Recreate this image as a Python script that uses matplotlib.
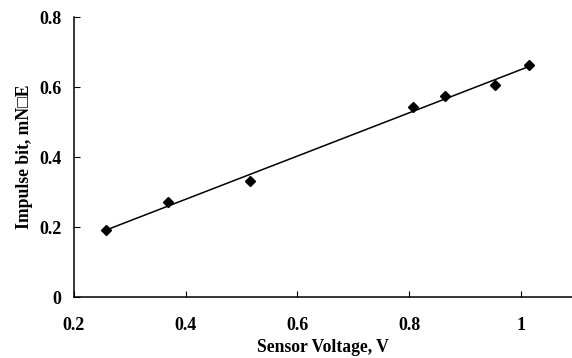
import numpy as np
import matplotlib.pyplot as plt

# Datos
voltage = [0.257, 0.369, 0.515, 0.807, 0.864, 0.954, 1.014]
impulse = [0.191, 0.272, 0.331, 0.542, 0.575, 0.606, 0.664]

x_ticks = [0.2, 0.4, 0.6, 0.8, 1.0]
x_tick_labels = ["0.2", "0.4", "0.6", "0.8", "1"]
y_ticks = [0, 0.2, 0.4, 0.6, 0.8]
y_tick_labels = ["0", "0.2", "0.4", "0.6", "0.8"]

plt.rcParams["font.family"] = ["Liberation Serif", "DejaVu Serif"]
plt.rcParams["font.weight"] = "bold"

fig = plt.figure(figsize=(5.72, 3.58), dpi=100)
ax = fig.add_axes([0.129, 0.170, 0.871, 0.782])

x = np.asarray(voltage)
y = np.asarray(impulse)
m, b = np.polyfit(x, y, 1)
xs = np.array([x.min(), x.max()])
ax.plot(xs, m * xs + b, color="black", lw=1.1)
ax.plot(x, y, linestyle="none", marker="D", ms=5, color="black")

ax.set_xlim(0.2, 1.091)
ax.set_ylim(0, 0.8)
ax.set_xticks(x_ticks)
ax.set_xticklabels(x_tick_labels)
ax.set_yticks(y_ticks)
ax.set_yticklabels(y_tick_labels)

ax.spines["top"].set_visible(False)
ax.spines["right"].set_visible(False)
for s in ["left", "bottom"]:
    ax.spines[s].set_linewidth(1.1)

ax.tick_params(axis="both", direction="in", length=4, width=0.8, labelsize=13)
ax.tick_params(axis="x", pad=14)
ax.tick_params(axis="y", pad=9)
for lbl in ax.get_xticklabels() + ax.get_yticklabels():
    lbl.set_fontweight("bold")

ax.set_xlabel("Sensor Voltage, V", fontsize=12.7, fontweight="bold", labelpad=4)
ax.set_ylabel("Impulse bit, mN\u25a1E", fontsize=12.7, fontweight="bold", labelpad=4)

plt.savefig("out.png", dpi=100)
plt.close(fig)
